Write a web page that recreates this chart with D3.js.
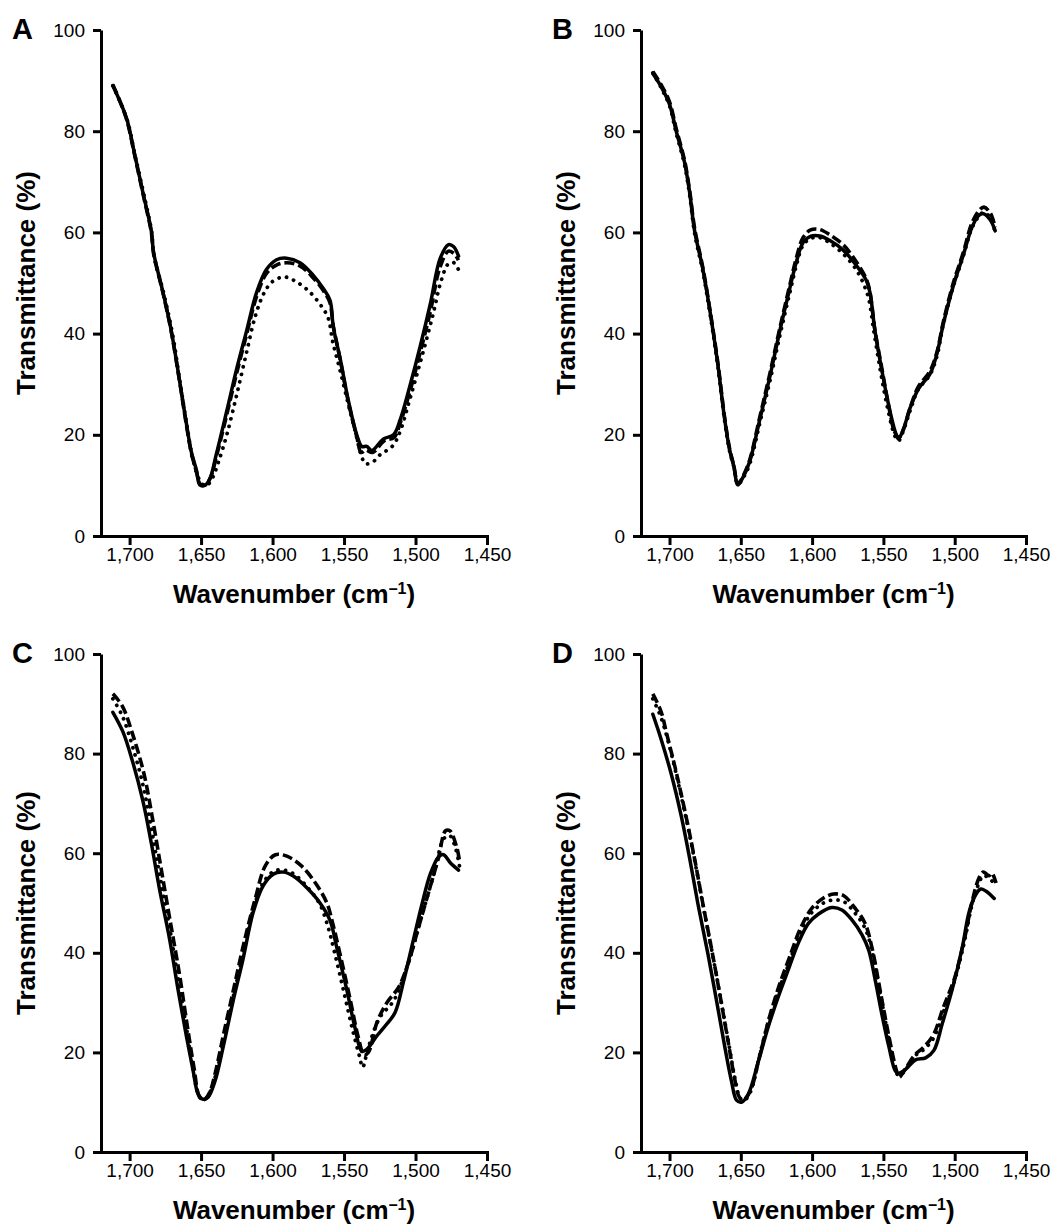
<!DOCTYPE html>
<html>
<head>
<meta charset="utf-8">
<script src="https://cdn.jsdelivr.net/npm/d3@7"></script>
<style>
  body { margin: 0; background: #fff; }
  svg { font-family: "Liberation Sans", Arial, sans-serif; }
</style>
</head>
<body>
<svg width="1063" height="1232"></svg>
<script>
// FTIR amide I / II region, four panels, three samples each
var panelLabels = ["A", "B", "C", "D"];
var xTicks = [1700, 1650, 1600, 1550, 1500, 1450];
var yTicks = [0, 20, 40, 60, 80, 100];

// [wavenumber, transmittance %]
var aSolid = [[1711.7,89.0],[1702.3,82.7],[1696.5,75.5],[1690.7,67.9],[1684.8,60.3],[1683.2,56],[1676.6,48.1],[1670.8,40.5],[1665,30.6],[1660.3,22.3],[1656.8,16.6],[1653.3,13.1],[1650.9,10.1],[1647.4,10.0],[1644,11.2],[1639.3,16.2],[1632.2,24.5],[1625.2,32.9],[1618.2,40.5],[1611.2,48.1],[1604.2,52.7],[1597.2,54.6],[1590.2,54.9],[1580.8,54.0],[1571.5,51.5],[1564.5,48.9],[1559.8,46.6],[1557.5,41.3],[1552.8,35.2],[1547,26.8],[1541.1,20.0],[1537.6,17.7],[1534.1,17.7],[1530.6,16.9],[1522.4,19.2],[1515.4,20.0],[1510.7,23.0],[1503.7,29.9],[1496.7,37.5],[1489.7,45.8],[1482.7,54.9],[1476.9,57.6],[1473.4,57.2],[1469.9,55.3]];
var aDashed = [[1711.7,89.2],[1702.3,82.5],[1696.5,75.3],[1690.7,67.7],[1684.8,60],[1683.2,55.8],[1676.6,48],[1670.8,40.3],[1665,30.5],[1660.3,22],[1656.8,16.4],[1653.3,12.8],[1650.5,10.2],[1647,10.1],[1643.5,11.5],[1639,16],[1632,24],[1625,32.3],[1618,40],[1611,47.5],[1604,52],[1597,53.6],[1590,54],[1581,53.4],[1571.5,51],[1564.5,48.5],[1560,46.2],[1557.5,41.5],[1552.8,35],[1547,26.5],[1541,19.5],[1538,16.5],[1535,17],[1530,16.5],[1522,18.8],[1515,19.5],[1510.5,22.5],[1503.5,29],[1496.5,36.5],[1489.5,44.5],[1483,53],[1477,56.3],[1473,55.8],[1470,54.5]];
var aDotted = [[1711.7,89],[1702,82.5],[1696,75],[1690,67.5],[1684.5,60],[1683,55.5],[1676,47.8],[1670,40],[1664.5,30],[1660,22],[1656,15.5],[1652.5,12],[1649.5,10.3],[1646,10],[1642,11.5],[1638,14.5],[1632,20],[1625,28],[1618,36.5],[1612,43.5],[1606,48],[1600,50.3],[1592,51.2],[1585,50.5],[1575,48.5],[1566,45.5],[1561,43],[1558,38.5],[1553,33],[1547,26],[1542,20.5],[1538,16],[1535,14.3],[1530,14.6],[1525,16],[1516,17.8],[1511,20.5],[1504,27],[1496,35],[1488,43.5],[1482,50.5],[1477,53.8],[1473,54],[1469.5,52.3]];

var bSolid = [[1711.7,91.4],[1705.9,88.8],[1700,85.3],[1695.3,80],[1689.5,73.9],[1685.9,67.9],[1682.4,60.3],[1676.6,52.7],[1670.7,42.8],[1666,33.7],[1661.3,23],[1657.8,16.9],[1655,13.9],[1652,10.1],[1648.5,11.6],[1643.8,14.7],[1636.7,23],[1629.7,31.4],[1622.7,40.5],[1615.7,48.9],[1611,54.2],[1606.3,58],[1600.4,59.3],[1594.6,59.3],[1587.5,58.4],[1578.2,56.5],[1568.8,53.4],[1561.8,50.4],[1559.4,48.1],[1555.9,40.5],[1551.2,32.9],[1546.5,26.1],[1541.8,20.7],[1539.5,19.2],[1536,21.1],[1531.3,25.3],[1525.4,29.1],[1517.2,32.1],[1512.6,35.9],[1507.9,42],[1500.8,49.6],[1493.8,55.7],[1487.9,61],[1483.3,63.3],[1479.8,63.7],[1475.1,62.5],[1471.6,60.3]];
var bDashed = [[1711.7,91.8],[1705.9,89.2],[1700,85.8],[1695.3,80.5],[1689.5,74.3],[1685.9,68.3],[1682.4,60.8],[1676.6,53],[1670.7,43],[1666,34],[1661.3,23.3],[1657.8,17.2],[1655,14],[1652,10.3],[1648.5,11.8],[1643.8,15],[1636.7,23.5],[1629.7,32],[1622.7,41],[1615.7,49.5],[1611,55],[1606.3,59],[1601,60.5],[1595,60.6],[1588,59.6],[1578,57.5],[1569,54.2],[1562,50.8],[1559.5,48.3],[1556,40.8],[1551,33],[1546.5,26],[1542,20.5],[1539,19.5],[1536,21],[1531,25.5],[1525.5,29.5],[1517.5,32.5],[1512.5,36.3],[1508,42.3],[1501,50],[1494,56],[1488,61.8],[1483,64.3],[1479.5,65],[1475,63.8],[1471.6,61]];
var bDotted = [[1711.7,91.5],[1705.9,88.6],[1700,85],[1695.3,79.6],[1689.5,73.4],[1685.9,67.4],[1682.4,59.8],[1676.6,52.2],[1670.7,42.3],[1666,33.3],[1661.3,22.7],[1657.8,16.7],[1655,13.8],[1652,10.2],[1648.5,11.4],[1643.8,14.2],[1636.7,22.3],[1629.7,30.5],[1622.7,39.5],[1615.7,48],[1611,53.5],[1606.3,57.5],[1601,58.8],[1595,59],[1588,58],[1578,55.7],[1569,52.6],[1563,49.2],[1560,46.5],[1557,41],[1552,32.5],[1547,25.2],[1542,19.8],[1539.5,18.8],[1536,20.8],[1531,25],[1525.5,29],[1517.5,31.8],[1512.5,35.5],[1508,41.8],[1501,49.3],[1494,55.3],[1488,60.8],[1483,63.2],[1479.5,64],[1475,62.8],[1471.6,60]];

var cSolid = [[1711.7,88.3],[1704.7,84.4],[1697.7,78.2],[1690.7,70.5],[1684.8,62],[1679,52.7],[1672,42.7],[1666.1,32.6],[1660.3,23.3],[1655.6,16.4],[1652.1,11.7],[1648.6,10.6],[1645.1,11],[1640.4,14.1],[1634.6,21],[1627.6,30.3],[1620.6,38.8],[1613.6,48.1],[1606.5,53.5],[1599.5,55.8],[1592.5,56.2],[1585.5,55.4],[1576.2,53.1],[1566.8,50],[1559.8,46.5],[1555.1,41.1],[1548.1,32.6],[1542.3,24.9],[1537.6,20.2],[1534.1,20.6],[1527.1,23.3],[1520.1,25.7],[1514.3,28],[1508.4,34.2],[1501.4,42.7],[1495.6,49.6],[1489.7,55.8],[1483.8,59.3],[1480.4,59.7],[1475.7,58.1],[1469.9,56.6]];
var cDashed = [[1711.7,92],[1705,89.5],[1698,84],[1690,76],[1684,67],[1678,57],[1672,47],[1665,35.5],[1660,26],[1655,17],[1651,11],[1648,10.5],[1644,12],[1640,16],[1634,24],[1627,33],[1620,42],[1612,51],[1605,57.5],[1598,59.7],[1590,59.4],[1580,57.5],[1570,54],[1562,50],[1558,46],[1553,40],[1546,31],[1540,23],[1536,19.5],[1533,20],[1527,26],[1520,30],[1512,33],[1505,38],[1498,45],[1490,53],[1484,59],[1479,64.5],[1476,64.5],[1471,61],[1469,58]];
var cDotted = [[1711.7,91],[1705,87.5],[1698,81.5],[1690.5,73.5],[1684.5,64.5],[1678.5,55],[1672,45],[1665.5,34],[1660,24.5],[1655.5,16.5],[1651.5,11.3],[1648.3,10.4],[1644.5,11.6],[1640,15.2],[1634,22.5],[1627,31.8],[1620,40.5],[1613,49.2],[1606,54.3],[1599,56.4],[1592,56.6],[1585,55.8],[1576,53.3],[1567,49.8],[1561,45],[1557,40.5],[1550,32],[1544,24.5],[1539,19],[1537,17],[1533,21],[1525,27],[1515,30.5],[1505,38],[1495,48],[1487,56],[1480,63],[1476,63.5],[1472,61],[1469,57]];

var dSolid = [[1711.7,87.9],[1705.9,82.9],[1698.8,75.9],[1691.8,67.5],[1685.9,59],[1680,49.7],[1673,39.7],[1667.1,30.5],[1661.3,21.2],[1656.6,14.3],[1653,10.4],[1649.5,10],[1644.8,11.6],[1637.8,18.1],[1630.8,25.1],[1623.7,31.2],[1616.7,36.6],[1609.6,42],[1602.6,45.9],[1595.5,47.8],[1586.2,49.1],[1579.1,48.6],[1572.1,46.6],[1565,43.6],[1560.3,40.5],[1555.6,34.3],[1550.9,27.4],[1546.2,21.2],[1541.5,16.2],[1539.2,15.8],[1534.5,16.6],[1527.5,18.5],[1520.4,18.9],[1514.6,20.4],[1508.7,25.8],[1501.6,32.8],[1494.6,41.2],[1489.9,48.2],[1485.2,51.7],[1481.7,52.8],[1478.2,52.4],[1472.3,50.9]];
var dDashed = [[1711.7,92],[1706,88.5],[1702,84],[1695.5,76.5],[1688.5,67.5],[1682.5,59],[1676.5,49.7],[1670,40],[1664,30.5],[1658.5,21.5],[1654.5,15],[1651,11],[1648,10.5],[1643,12.5],[1637,19],[1630,27],[1623,33.5],[1616,39],[1608,45],[1600,49],[1592,51],[1585,51.8],[1578,51.5],[1570,49],[1563,46],[1558,41],[1552,32],[1546,23],[1541,16.5],[1539,15],[1535,16.5],[1528,19.5],[1522,21],[1515,23.5],[1508,29],[1500,35],[1493,43],[1488,50],[1483,55],[1480,56.2],[1476,55.5],[1474,56],[1471,54]];
var dDotted = [[1711.7,91],[1706,87.3],[1701,82.5],[1695,75.5],[1688,66.5],[1682,58],[1676,48.8],[1669.5,39.2],[1663.5,29.8],[1658,21],[1654,14.6],[1650.5,10.8],[1647.8,10.3],[1643,12.2],[1637.5,18.6],[1630.5,26.3],[1623.5,32.5],[1616,38],[1608.5,44],[1600.5,48],[1592,50],[1585,50.6],[1578,50.3],[1570,48],[1563,45],[1558,40.5],[1552,31.5],[1546,22.5],[1541,16],[1539,15.3],[1535,16.3],[1528,19.3],[1522,20.5],[1515,22.8],[1508,28],[1500,34.5],[1493,42.5],[1488,49.5],[1483,54],[1480,55.5],[1476,55],[1471,53.5]];

var panelData = [
  {solid: aSolid, dashed: aDashed, dotted: aDotted},
  {solid: bSolid, dashed: bDashed, dotted: bDotted},
  {solid: cSolid, dashed: cDashed, dotted: cDotted},
  {solid: dSolid, dashed: dDashed, dotted: dDotted}
];

// layout of the 2x2 grid
var layout = [
  {left: 101, right: 487,  top: 30,  bottom: 536},
  {left: 641, right: 1026, top: 30,  bottom: 536},
  {left: 101, right: 487,  top: 654, bottom: 1152},
  {left: 641, right: 1026, top: 654, bottom: 1152}
];

var svg = d3.select("svg");

var styles = {
  dotted: {width: 3.8, dash: "0.1,7.5", cap: "round"},
  dashed: {width: 3.6, dash: "10,4", cap: "butt"},
  solid:  {width: 3.5, dash: null, cap: "round"}
};

layout.forEach(function(p, i){
  var x = d3.scaleLinear().domain([1720, 1450]).range([p.left, p.right]);
  var y = d3.scaleLinear().domain([0, 100]).range([p.bottom, p.top]);

  var g = svg.append("g");

  var line = d3.line()
    .x(function(d){ return x(d[0]); })
    .y(function(d){ return y(d[1]); })
    .curve(d3.curveCatmullRom);

  ["dotted", "dashed", "solid"].forEach(function(k){
    var s = styles[k];
    g.append("path")
      .attr("d", line(panelData[i][k]))
      .attr("fill", "none")
      .attr("stroke", "#000")
      .attr("stroke-width", s.width)
      .attr("stroke-linecap", s.cap)
      .attr("stroke-linejoin", "round")
      .attr("stroke-dasharray", s.dash);
  });

  var xAxis = d3.axisBottom(x).tickValues(xTicks).tickSize(9).tickSizeOuter(0)
    .tickFormat(d3.format(","));
  var yAxis = d3.axisLeft(y).tickValues(yTicks).tickSize(8).tickSizeOuter(0);

  var gx = g.append("g")
    .attr("transform", "translate(0," + p.bottom + ")")
    .call(xAxis);
  var gy = g.append("g")
    .attr("transform", "translate(" + p.left + ",0)")
    .call(yAxis);

  [gx, gy].forEach(function(a){
    a.selectAll("path, line").attr("stroke", "#000").attr("stroke-width", 3);
    a.selectAll("text").attr("fill", "#000").style("font-size", "19px")
      .style("font-family", "'Liberation Sans', Arial, sans-serif");
  });
  gx.select(".domain").attr("stroke-linecap", "square");
  gx.selectAll("text").attr("dy", null).attr("y", 25);
  gy.selectAll("text").attr("x", -16);

  // axis titles
  var xt = g.append("text")
    .attr("x", (p.left + p.right) / 2)
    .attr("y", p.bottom + 67)
    .attr("text-anchor", "middle")
    .style("font-size", "26px").style("font-weight", "bold")
    .text("Wavenumber (cm");
  xt.append("tspan").attr("dy", -9).style("font-size", "16px").text("\u2013");
  xt.append("tspan").style("font-size", "16px").text("1");
  xt.append("tspan").attr("dy", 9).text(")");

  g.append("text")
    .attr("transform", "translate(" + (p.left - 66) + "," + ((p.top + p.bottom) / 2) + ") rotate(-90)")
    .attr("text-anchor", "middle")
    .style("font-size", "26px").style("font-weight", "bold")
    .text("Transmittance (%)");

  g.append("text")
    .attr("x", p.left - 89)
    .attr("y", p.top + 9)
    .style("font-size", "29px").style("font-weight", "bold")
    .text(panelLabels[i]);
});
</script>
</body>
</html>
